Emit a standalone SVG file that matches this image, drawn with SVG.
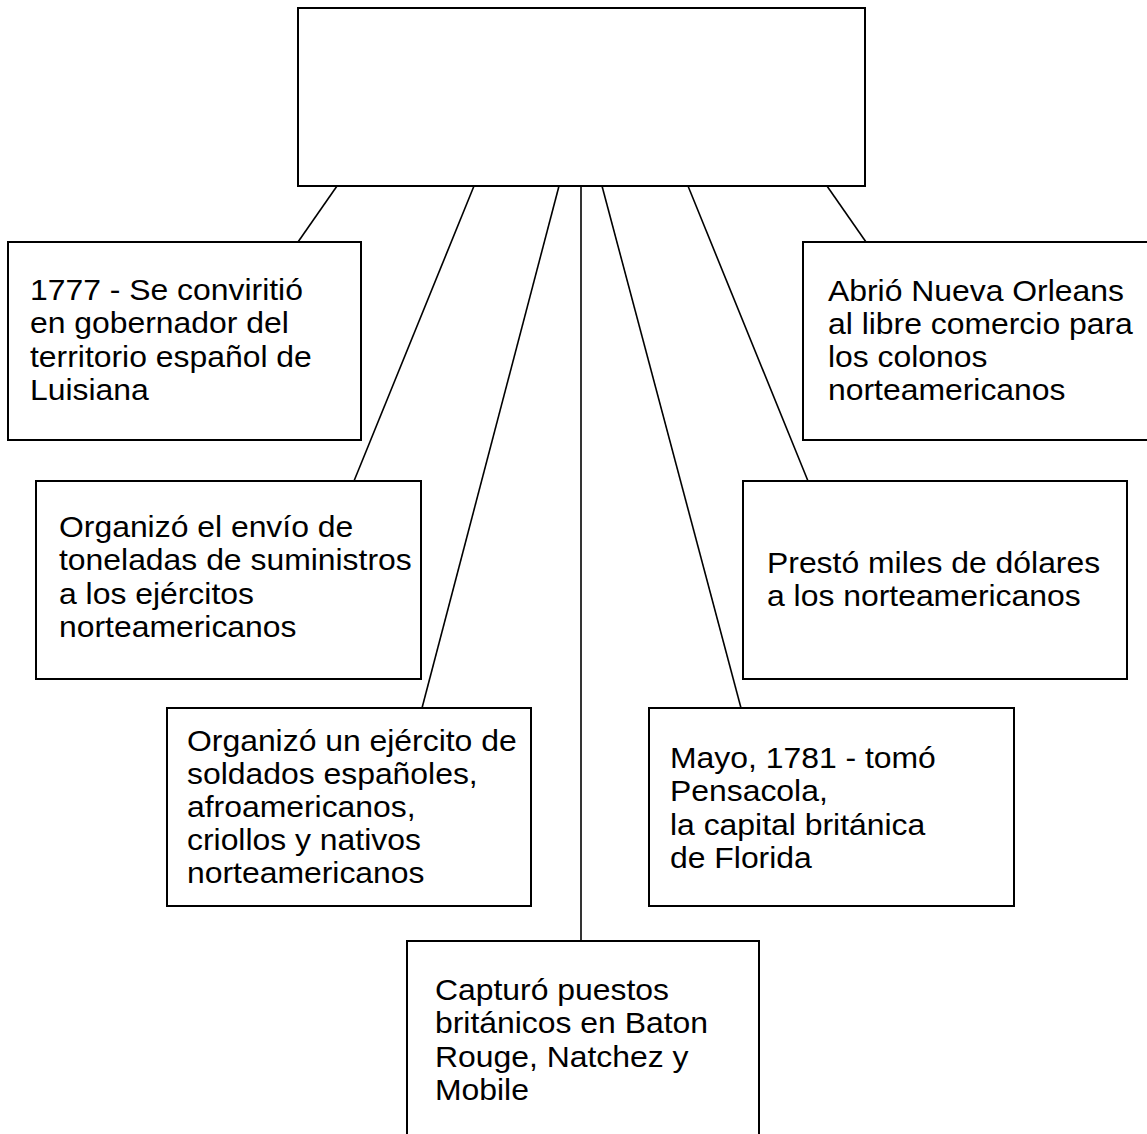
<svg xmlns="http://www.w3.org/2000/svg" width="1147" height="1134" viewBox="0 0 1147 1134">
<style>
.box{fill:#fff;stroke:#000;stroke-width:2}
.con{stroke:#000;stroke-width:1.6;fill:none}
.t{font-family:"Liberation Sans",Arial,sans-serif;font-size:29px;fill:#000}
</style>
<rect width="1147" height="1134" fill="#fff"/>
<g id="connectors">
<line class="con" x1="337" y1="186" x2="298" y2="242"/>
<line class="con" x1="474" y1="186" x2="354" y2="481"/>
<line class="con" x1="559" y1="186" x2="422" y2="708"/>
<line class="con" x1="581" y1="186" x2="581" y2="941"/>
<line class="con" x1="602" y1="186" x2="741" y2="708"/>
<line class="con" x1="688" y1="186" x2="808" y2="481"/>
<line class="con" x1="827" y1="186" x2="866" y2="242"/>
</g>
<g id="root">
<rect class="box" x="298" y="8" width="567" height="178"/>
</g>
<g id="n1">
<rect class="box" x="8" y="242" width="353" height="198"/>
<text class="t" transform="translate(30,300) scale(1.1,1)"><tspan x="0" y="0">1777 - Se conviritió</tspan><tspan x="0" y="33.3">en gobernador del</tspan><tspan x="0" y="66.6">territorio español de</tspan><tspan x="0" y="100">Luisiana</tspan></text>
</g>
<g id="n2">
<rect class="box" x="36" y="481" width="385" height="198"/>
<text class="t" transform="translate(59,537) scale(1.1,1)"><tspan x="0" y="0">Organizó el envío de</tspan><tspan x="0" y="33.3">toneladas de suministros</tspan><tspan x="0" y="66.6">a los ejércitos</tspan><tspan x="0" y="100">norteamericanos</tspan></text>
</g>
<g id="n3">
<rect class="box" x="167" y="708" width="364" height="198"/>
<text class="t" transform="translate(187,751) scale(1.1,1)"><tspan x="0" y="0">Organizó un ejército de</tspan><tspan x="0" y="33">soldados españoles,</tspan><tspan x="0" y="66">afroamericanos,</tspan><tspan x="0" y="99">criollos y nativos</tspan><tspan x="0" y="132">norteamericanos</tspan></text>
</g>
<g id="n4">
<rect class="box" x="407" y="941" width="352" height="210"/>
<text class="t" transform="translate(435,1000) scale(1.1,1)"><tspan x="0" y="0">Capturó puestos</tspan><tspan x="0" y="33.5">británicos en Baton</tspan><tspan x="0" y="67">Rouge, Natchez y</tspan><tspan x="0" y="100.5">Mobile</tspan></text>
</g>
<g id="n5">
<rect class="box" x="649" y="708" width="365" height="198"/>
<text class="t" transform="translate(670,768) scale(1.1,1)"><tspan x="0" y="0">Mayo, 1781 - tomó</tspan><tspan x="0" y="33.3">Pensacola,</tspan><tspan x="0" y="66.6">la capital británica</tspan><tspan x="0" y="100">de Florida</tspan></text>
</g>
<g id="n6">
<rect class="box" x="743" y="481" width="384" height="198"/>
<text class="t" transform="translate(767,573) scale(1.1,1)"><tspan x="0" y="0">Prestó miles de dólares</tspan><tspan x="0" y="33.5">a los norteamericanos</tspan></text>
</g>
<g id="n7">
<rect class="box" x="803" y="242" width="350" height="198"/>
<text class="t" transform="translate(828,300.5) scale(1.1,1)"><tspan x="0" y="0">Abrió Nueva Orleans</tspan><tspan x="0" y="33.3">al libre comercio para</tspan><tspan x="0" y="66.6">los colonos</tspan><tspan x="0" y="100">norteamericanos</tspan></text>
</g>
</svg>
